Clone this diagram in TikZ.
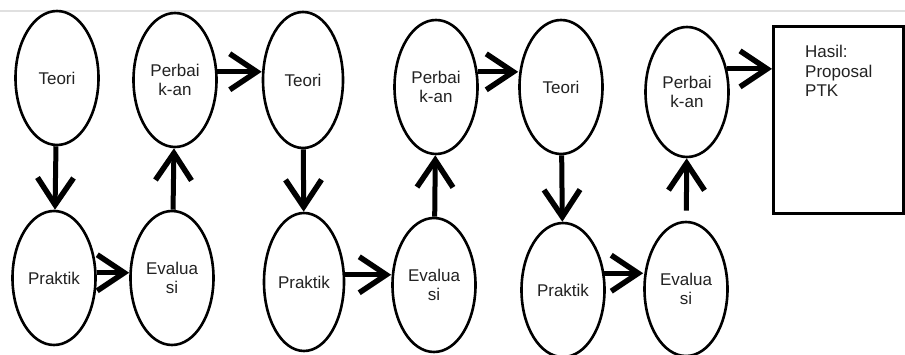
\documentclass[tikz,border=0pt]{standalone}
\usepackage{fontspec}
\setmainfont{Liberation Sans}
\usetikzlibrary{shapes.geometric,arrows.meta}
\definecolor{txt}{HTML}{222222}
\begin{document}
\begin{tikzpicture}[x=1pt,y=-1pt,
  oval/.style={ellipse,draw=black,line width=2.6pt,inner sep=0pt,
    minimum width=83pt,minimum height=134pt,align=center,text=txt,
    font=\fontsize{17}{18.5}\selectfont},
  arr/.style={line width=5pt,black,
    -{Straight Barb[length=27pt,width=36pt,line width=5.5pt]}},
  resbox/.style={rectangle,draw=black,line width=2.8pt,inner sep=0pt,
    minimum width=130pt,minimum height=187pt},
  boxtext/.style={inner sep=0pt,align=left,text=txt,
    font=\fontsize{17}{19.5}\selectfont}]
\useasboundingbox (0,0) rectangle (905,355);
\fill[white] (0,0) rectangle (905,355);
\coordinate (gl) at (0,11);
\coordinate (gr) at (905,11);
\draw[black!12,line width=1.5pt] (gl) -- (gr);
% ellipses
\node[oval] (T1) at (57,78) {Teori};
\node[oval] (P1) at (54,278) {Praktik};
\node[oval] (E1) at (172,278) {Evalua\\si};
\node[oval] (B1) at (175,80) {Perbai\\k-an};
\node[oval,minimum width=80pt,minimum height=136pt] (T2) at (303,80) {Teori};
\node[oval,minimum width=80pt,minimum height=138pt] (P2) at (304,282) {Praktik};
\node[oval] (E2) at (434,285) {Evalua\\si};
\node[oval] (B2) at (436,87) {Perbai\\k-an};
\node[oval] (T3) at (561,87) {Teori};
\node[oval] (P3) at (563,290) {Praktik};
\node[oval] (E3) at (686,289) {Evalua\\si};
\node[oval,minimum height=130pt] (B3) at (687,92) {Perbai\\k-an};
% result box
\node[resbox,anchor=north west] (R) at (772,25) {};
\node[boxtext,anchor=north west] (RT) at ([xshift=33pt,yshift=-20pt]R.north west) {Hasil:\\Proposal\\PTK};
% arrows
\draw[arr] (T1) -- (P1);
\draw[arr] (P1.7) -- (E1.west |- P1.7);
\draw[arr] (E1) -- (B1);
\draw[arr] (B1.11) -- (T2.west |- B1.11);
\draw[arr] (T2) -- (P2);
\draw[arr] (P2.10) -- (E2.west |- P2.10);
\draw[arr] (E2) -- (B2);
\draw[arr] (B2.20) -- (T3.west |- B2.20);
\draw[arr] (T3) -- (P3);
\draw[arr] (P3.22) -- (E3.west |- P3.22);
\draw[arr,shorten <=10pt] (E3) -- (B3);
\draw[arr] (B3.30) -- (R.west |- B3.30);
\end{tikzpicture}
\end{document}
